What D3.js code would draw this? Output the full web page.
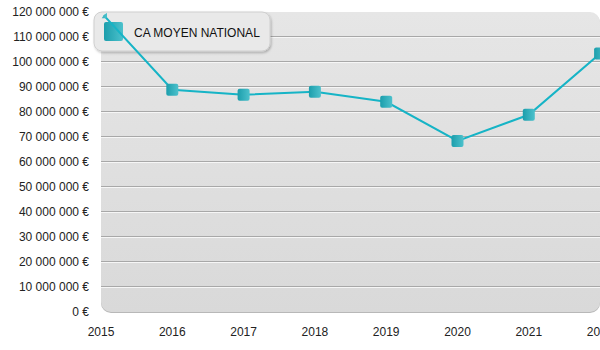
<!DOCTYPE html>
<html><head><meta charset="utf-8">
<script src="https://cdn.jsdelivr.net/npm/d3@7"></script>
<style>body{margin:0;background:#fff}svg{display:block;font-family:"Liberation Sans",Arial,sans-serif}</style>
</head><body>
<svg id="c" width="600" height="350"></svg>
<script>
const years = ["2015","2016","2017","2018","2019","2020","2021","2022"];
const caMoyen = [119900000, 88900000, 86900000, 88100000, 84100000, 68400000, 78900000, 103400000];
const yTicks = [0,10000000,20000000,30000000,40000000,50000000,60000000,70000000,80000000,90000000,100000000,110000000,120000000];
const seriesName = "CA MOYEN NATIONAL";

const svg = d3.select("#c");
const m = {l:101, r:600, t:12, b:312};
const x = d3.scaleLinear().domain([0, years.length-1]).range([m.l, m.l + (years.length-1)*71.3]);
const y = d3.scaleLinear().domain([0,120000000]).range([m.b, m.t]);
const loc = d3.formatLocale({decimal:",", thousands:" ", grouping:[3], currency:["","€"]});
const fmt = v => loc.format(",d")(v) + " €";

const defs = svg.append("defs");
const bg = defs.append("linearGradient").attr("id","bg").attr("x1",0).attr("y1",0).attr("x2",0).attr("y2",1);
bg.append("stop").attr("offset","0%").attr("stop-color","#e6e6e6");
bg.append("stop").attr("offset","100%").attr("stop-color","#d9d9d9");
const mg = defs.append("linearGradient").attr("id","mk").attr("x1",0).attr("y1",0).attr("x2",1).attr("y2",0);
mg.append("stop").attr("offset","0%").attr("stop-color","#1c9eac");
mg.append("stop").attr("offset","100%").attr("stop-color","#4cc1cc");
defs.append("clipPath").attr("id","pc").append("rect")
  .attr("x",m.l).attr("y",m.t).attr("width",m.r-m.l).attr("height",m.b-m.t).attr("rx",10);
const sh = defs.append("filter").attr("id","sh").attr("x","-10%").attr("y","-20%").attr("width","130%").attr("height","160%");
sh.append("feDropShadow").attr("dx",1).attr("dy",1.5).attr("stdDeviation",1.2).attr("flood-color","#000").attr("flood-opacity",0.25);

// plot background
svg.append("rect").attr("x",m.l).attr("y",m.t+1).attr("width",m.r-m.l).attr("height",m.b-m.t)
  .attr("rx",10).attr("fill","#b8b8b8");
svg.append("rect").attr("x",m.l).attr("y",m.t).attr("width",m.r-m.l).attr("height",m.b-m.t)
  .attr("rx",10).attr("fill","url(#bg)");

// gridlines
const g = svg.append("g");
yTicks.filter(t => t>0 && t<120000000).forEach(t => {
  const yy = Math.round(y(t)) - 0.5;
  g.append("line").attr("x1",m.l).attr("x2",m.r).attr("y1",yy).attr("y2",yy).attr("stroke","#a8a8a8");
  g.append("line").attr("x1",m.l).attr("x2",m.r).attr("y1",yy+1).attr("y2",yy+1).attr("stroke","#f6f6f6");
});

// y labels
svg.append("g").selectAll("text").data(yTicks).join("text")
  .attr("x",89).attr("y",d=>y(d)).attr("dy","0.35em").attr("text-anchor","end")
  .attr("font-size",12).attr("fill","#222").text(fmt);
// x labels
svg.append("g").selectAll("text").data(years).join("text")
  .attr("x",(d,i)=>x(i)).attr("y",336).attr("text-anchor","middle")
  .attr("font-size",12).attr("fill","#222").text(d=>d);

// legend
const lg = svg.append("g");
lg.append("rect").attr("x",94).attr("y",12).attr("width",176).attr("height",39).attr("rx",8)
  .attr("fill","#e9e9e9").attr("stroke","#cfcfcf").attr("filter","url(#sh)");
lg.append("rect").attr("x",104).attr("y",22).attr("width",19).attr("height",19).attr("rx",2).attr("fill","url(#mk)");
lg.append("text").attr("x",134).attr("y",36.5).attr("font-size",12).attr("fill","#111").text(seriesName);

// series
const s = svg.append("g").attr("clip-path","url(#pc)");
s.append("path").datum(caMoyen)
  .attr("d", d3.line().x((d,i)=>x(i)).y(d=>y(d)))
  .attr("fill","none").attr("stroke","#16b4c6").attr("stroke-width",2);
s.selectAll("rect.mk").data(caMoyen).join("rect").attr("class","mk")
  .attr("x",(d,i)=>x(i)-6).attr("y",d=>y(d)-6).attr("width",12).attr("height",12).attr("rx",2)
  .attr("fill","url(#mk)");
</script>
</body></html>
